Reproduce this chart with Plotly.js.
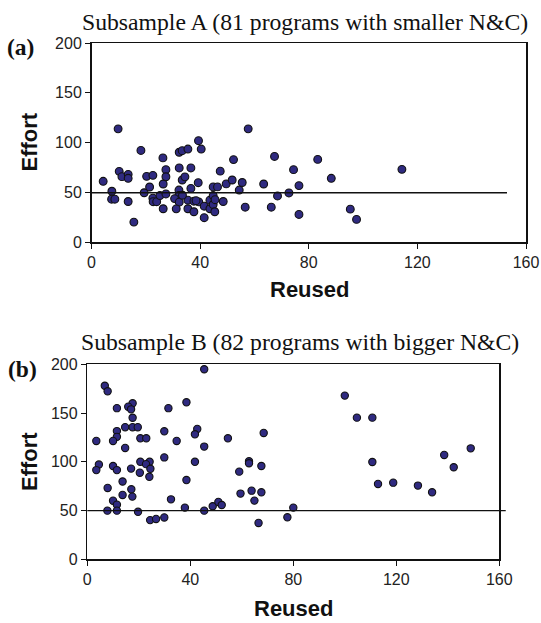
<!DOCTYPE html>
<html>
<head>
<meta charset="utf-8">
<script src="https://cdn.plot.ly/plotly-3.0.1.min.js"></script>
<style>html,body{margin:0;padding:0;background:#fff}#chart{width:541px;height:623px}</style>
</head>
<body>
<div id="chart"></div>
<script>
// Subsample A (81 programs with smaller N&C)
var reusedA = [4.3, 9.8, 7.5, 7.4, 8.6, 10.2, 11.2, 13.5, 13.5, 13.5, 15.6, 18.2, 19.4, 20.3, 22.6, 21.4, 22.6, 22.7, 24.0, 25.2,
  26.3, 27.4, 27.4, 26.4, 27.4, 26.4, 32.3, 33.4, 35.5, 32.3, 36.6, 33.4, 34.4, 32.2, 32.2, 30.6, 32.3, 31.2, 35.5, 35.5,
  36.6, 37.7, 37.7, 39.4, 40.4, 39.3, 39.5, 41.5, 41.5, 43.6, 43.6, 44.8, 44.8, 45.4, 44.8, 46.4, 47.4, 48.5, 49.6, 51.8,
  52.3, 54.4, 55.5, 56.6, 57.7, 63.4, 66.2, 67.4, 68.5, 72.7, 74.4, 76.4, 76.4, 83.3, 88.3, 95.3, 97.6, 114.3,
  38.5, 33.5, 45.5];
var effortA = [61, 113.7, 51, 43, 43, 71, 65.7, 68, 64, 40.7, 20, 92, 49.5, 66, 67, 55.3, 44, 40.5, 40.5, 46.7,
  84.5, 72.7, 65.6, 58.3, 48.3, 33.4, 90.2, 91.8, 93.4, 74.4, 74.4, 62.3, 65.5, 52.2, 46.7, 43.6, 40, 33.3, 42, 33.4,
  53.8, 41, 30.4, 101.8, 93.4, 59.6, 40.3, 36, 24.4, 42, 33.4, 46.7, 37.7, 30.4, 55.4, 55.4, 71.2, 40.7, 58.4, 62.3,
  82.8, 52.2, 59.8, 35, 113.7, 58.3, 35, 86, 46.3, 49.3, 72.7, 56.7, 27.7, 83, 64, 33, 22.7, 73,
  41.5, 47, 42.5];
var levelA = 49.5, lineEndA = 153;

// Subsample B (82 programs with bigger N&C)
var reusedB = [45.4, 6.8, 7.9, 38.5, 17.6, 15.9, 17.0, 11.5, 31.5, 17.6, 14.7, 17.6, 19.6, 42.7, 11.5, 29.9, 41.8, 68.5, 11.5, 20.6,
  22.9, 10.0, 3.5, 34.7, 54.6, 14.7, 45.4, 29.9, 20.6, 24.2, 22.8, 24.5, 20.4, 24.1, 17.0, 10.0, 11.5, 4.5, 3.5, 41.8,
  13.7, 38.5, 7.9, 17.1, 17.5, 13.7, 10.0, 11.5, 7.8, 11.5, 19.7, 32.5, 37.9, 45.4, 48.7, 50.9, 52.2, 24.4, 26.7, 29.9,
  59, 62.8, 62.8, 67.6, 59.5, 63.8, 64.9, 67.6, 66.5, 77.7, 80.0, 100, 104.7, 110.7, 110.7, 112.9, 118.8, 128.4, 133.9, 138.6,
  142.3, 148.9];
var effortB = [194.9, 178, 172.3, 161, 160, 156.5, 153.8, 155, 155, 145.2, 135.5, 135.5, 135.5, 133.7, 131.5, 131.3, 128.2, 129.6, 125.6, 124.1,
  124.1, 121.4, 121.4, 121.4, 124.1, 114.2, 115.6, 104.5, 100, 100, 97.6, 92.8, 88.8, 84.6, 93, 95.7, 91.5, 97.2, 91.5, 100,
  79.8, 81.3, 73.2, 71.8, 64.3, 66, 60.1, 56, 49.9, 49.9, 48.7, 61.5, 53, 49.9, 54.4, 58.8, 55.7, 40.2, 41.4, 42.9,
  89.9, 100.5, 98.5, 95.7, 67.4, 70.4, 60.2, 68.7, 37.3, 43.1, 53, 167.9, 145.3, 145.3, 99.8, 77.3, 78.6, 75.6, 68.7, 107,
  94.4, 113.8];
var levelB = 50, lineEndB = 162.5;

var titleA = 'Subsample A (81 programs with smaller N&C)';
var titleB = 'Subsample B (82 programs with bigger N&C)';
var xTicks = [0, 40, 80, 120, 160];
var yTicks = [0, 50, 100, 150, 200];
var xRange = [0, 160], yRange = [0, 200];

var W = 541, H = 623;
function px(x) { return x / W; }
function py(y) { return 1 - y / H; }

var markerStyle = function (s) {
  return { symbol: 'circle', size: s, color: '#2f2a80', line: { color: '#111', width: 1.1 } };
};

var traces = [
  { type: 'scatter', mode: 'markers', x: reusedA, y: effortA, xaxis: 'x', yaxis: 'y', marker: markerStyle(7.8), cliponaxis: false, hoverinfo: 'x+y' },
  { type: 'scatter', mode: 'markers', x: reusedB, y: effortB, xaxis: 'x2', yaxis: 'y2', marker: markerStyle(7.3), cliponaxis: false, hoverinfo: 'x+y' }
];

function xAxis(domain, anchor) {
  return {
    domain: domain, anchor: anchor, range: xRange, tickvals: xTicks, ticktext: xTicks.map(String),
    showgrid: false, zeroline: false, showline: true, linecolor: '#111', linewidth: 1.5, mirror: true,
    ticks: 'outside', ticklen: 5, tickwidth: 1, tickcolor: '#111',
    tickfont: { family: 'Liberation Sans, Arial, sans-serif', size: 16, color: '#222' }
  };
}
function yAxis(domain, anchor) {
  return {
    domain: domain, anchor: anchor, range: yRange, tickvals: yTicks, ticktext: yTicks.map(String),
    showgrid: false, zeroline: false, showline: true, linecolor: '#111', linewidth: 1.5, mirror: true,
    ticks: 'outside', ticklen: 5, tickwidth: 1, tickcolor: '#111',
    tickfont: { family: 'Liberation Sans, Arial, sans-serif', size: 16, color: '#222' }
  };
}

var serif = 'Liberation Serif, Times New Roman, serif';
var sans = 'Liberation Sans, Arial, sans-serif';

var layout = {
  width: W, height: H, showlegend: false,
  margin: { l: 0, r: 0, t: 0, b: 0 },
  paper_bgcolor: '#fff', plot_bgcolor: '#fff',
  xaxis: xAxis([px(91.5), px(526)], 'y'),
  yaxis: yAxis([py(242), py(43)], 'x'),
  xaxis2: xAxis([px(87.3), px(499.3)], 'y2'),
  yaxis2: yAxis([py(559.3), py(364.3)], 'x2'),
  shapes: [
    { type: 'line', xref: 'x domain', yref: 'y domain', x0: 0, x1: lineEndA / xRange[1], y0: levelA / yRange[1], y1: levelA / yRange[1], line: { color: '#111', width: 1.3 } },
    { type: 'line', xref: 'x2 domain', yref: 'y2 domain', x0: 0, x1: lineEndB / xRange[1], y0: levelB / yRange[1], y1: levelB / yRange[1], line: { color: '#111', width: 1.3 } }
  ],
  annotations: [
    { text: titleA, xref: 'paper', yref: 'paper', x: px(305), y: py(22), xanchor: 'center', yanchor: 'middle', showarrow: false, font: { family: serif, size: 23.7, color: '#111' } },
    { text: titleB, xref: 'paper', yref: 'paper', x: px(300), y: py(342), xanchor: 'center', yanchor: 'middle', showarrow: false, font: { family: serif, size: 23.7, color: '#111' } },
    { text: '<b>(a)</b>', xref: 'paper', yref: 'paper', x: px(20), y: py(47), xanchor: 'center', yanchor: 'middle', showarrow: false, font: { family: serif, size: 23.5, color: '#111' } },
    { text: '<b>(b)</b>', xref: 'paper', yref: 'paper', x: px(22), y: py(369), xanchor: 'center', yanchor: 'middle', showarrow: false, font: { family: serif, size: 23.5, color: '#111' } },
    { text: '<b>Effort</b>', xref: 'paper', yref: 'paper', x: px(29), y: py(142.5), xanchor: 'center', yanchor: 'middle', textangle: -90, showarrow: false, font: { family: sans, size: 22, color: '#111' } },
    { text: '<b>Effort</b>', xref: 'paper', yref: 'paper', x: px(29), y: py(462), xanchor: 'center', yanchor: 'middle', textangle: -90, showarrow: false, font: { family: sans, size: 22, color: '#111' } },
    { text: '<b>Reused</b>', xref: 'paper', yref: 'paper', x: px(309), y: py(289), xanchor: 'center', yanchor: 'middle', showarrow: false, font: { family: sans, size: 22, color: '#111' } },
    { text: '<b>Reused</b>', xref: 'paper', yref: 'paper', x: px(293), y: py(608), xanchor: 'center', yanchor: 'middle', showarrow: false, font: { family: sans, size: 22, color: '#111' } }
  ]
};

Plotly.newPlot('chart', traces, layout, { displayModeBar: false, staticPlot: true });
</script>
</body>
</html>
